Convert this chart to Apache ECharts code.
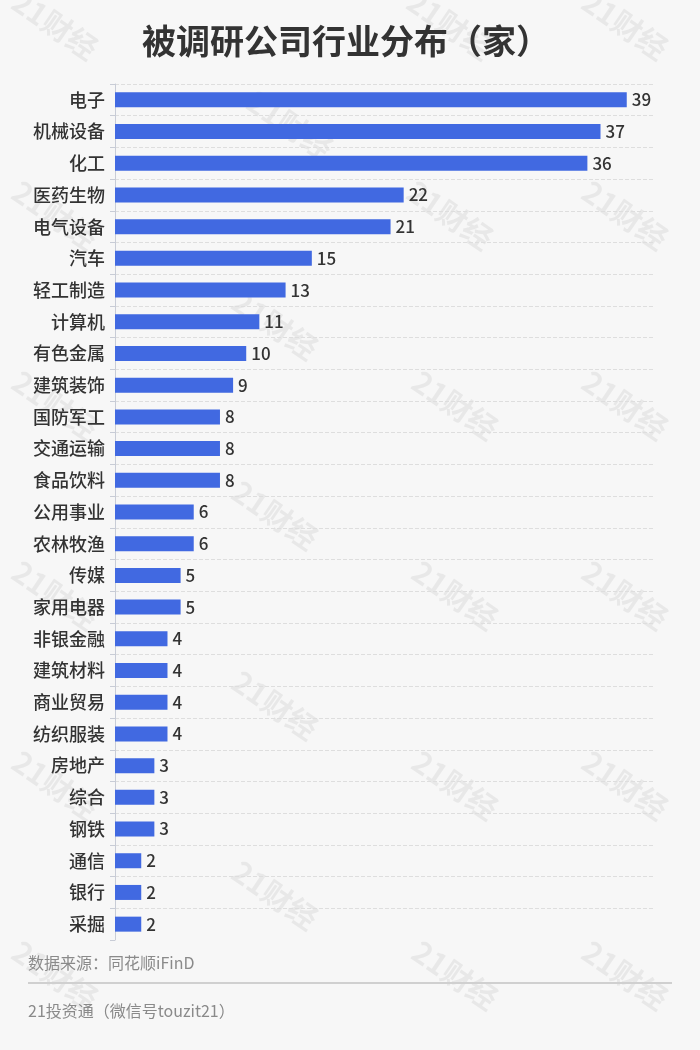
<!DOCTYPE html>
<html>
<head>
<meta charset="utf-8">
<script src="https://cdn.jsdelivr.net/npm/echarts@6/dist/echarts.min.js"></script>
<style>
html,body{margin:0;padding:0;background:#f7f7f7;}
#chart{width:700px;height:1050px;}
</style>
</head>
<body>
<div id="chart"></div>
<script>
var categories = ['电子','机械设备','化工','医药生物','电气设备','汽车','轻工制造','计算机','有色金属','建筑装饰','国防军工','交通运输','食品饮料','公用事业','农林牧渔','传媒','家用电器','非银金融','建筑材料','商业贸易','纺织服装','房地产','综合','钢铁','通信','银行','采掘'];
var values = [39,37,36,22,21,15,13,11,10,9,8,8,8,6,6,5,5,4,4,4,4,3,3,3,2,2,2];
var titleText = '被调研公司行业分布（家）';
var sourceText = '数据来源：同花顺iFinD';
var footerText = '21投资通（微信号touzit21）';
var watermarkText = '21财经';

var FONT = '"Noto Sans CJK SC","Noto Sans",sans-serif';
var wmPos = [
  [55,25],[450,25],[625,25],
  [290,125],
  [55,215],[450,215],[625,215],
  [275,325],
  [55,405],[455,405],[625,405],
  [275,515],
  [55,595],[455,595],[625,595],
  [275,705],
  [55,785],[455,785],[625,785],
  [275,895],
  [55,975],[455,975],[625,975]
];
var graphics = wmPos.map(function(p){
  return {type:'text', x:p[0], y:p[1], rotation:-0.6, z:-10, silent:true,
    style:{text:watermarkText, fill:'rgba(0,0,0,0.06)', font:'bold 30px '+FONT, textAlign:'center', textVerticalAlign:'middle'}};
});
graphics.push({type:'text', left:28, top:955, style:{text:sourceText, fill:'#8a8a8a', font:'16px '+FONT}});
graphics.push({type:'rect', shape:{x:28,y:982,width:644,height:2}, style:{fill:'#d0d0d0'}});
graphics.push({type:'text', left:28, top:1003, style:{text:footerText, fill:'#8a8a8a', font:'16px '+FONT}});

var chart = echarts.init(document.getElementById('chart'), null, {renderer:'canvas'});
chart.setOption({
  backgroundColor:'#f7f7f7',
  animation:false,
  title:{text:titleText, left:341, textAlign:'center', top:19,
    textStyle:{fontFamily:FONT, fontSize:34, fontWeight:'bold', color:'#333'}},
  grid:{left:115, right:47, top:84, bottom:110, containLabel:false},
  xAxis:{type:'value', min:0, max:41, show:false},
  yAxis:{type:'category', data:categories, inverse:true,
    axisLine:{show:true, lineStyle:{color:'#c8ccd6', width:1}},
    axisTick:{show:true, length:5, lineStyle:{color:'#c8ccd6'}},
    axisLabel:{fontFamily:FONT, fontSize:18, fontWeight:500, color:'#333', margin:10},
    splitLine:{show:true, showMaxLine:false, lineStyle:{type:'dashed', color:'#dedede', width:1}}
  },
  series:[{type:'bar', data:values, barWidth:15,
    itemStyle:{color:'#4169e1'},
    label:{show:true, position:'right', distance:5, fontFamily:FONT, fontSize:17, fontWeight:500, color:'#333'}
  }],
  graphic:graphics
});
</script>
</body>
</html>
